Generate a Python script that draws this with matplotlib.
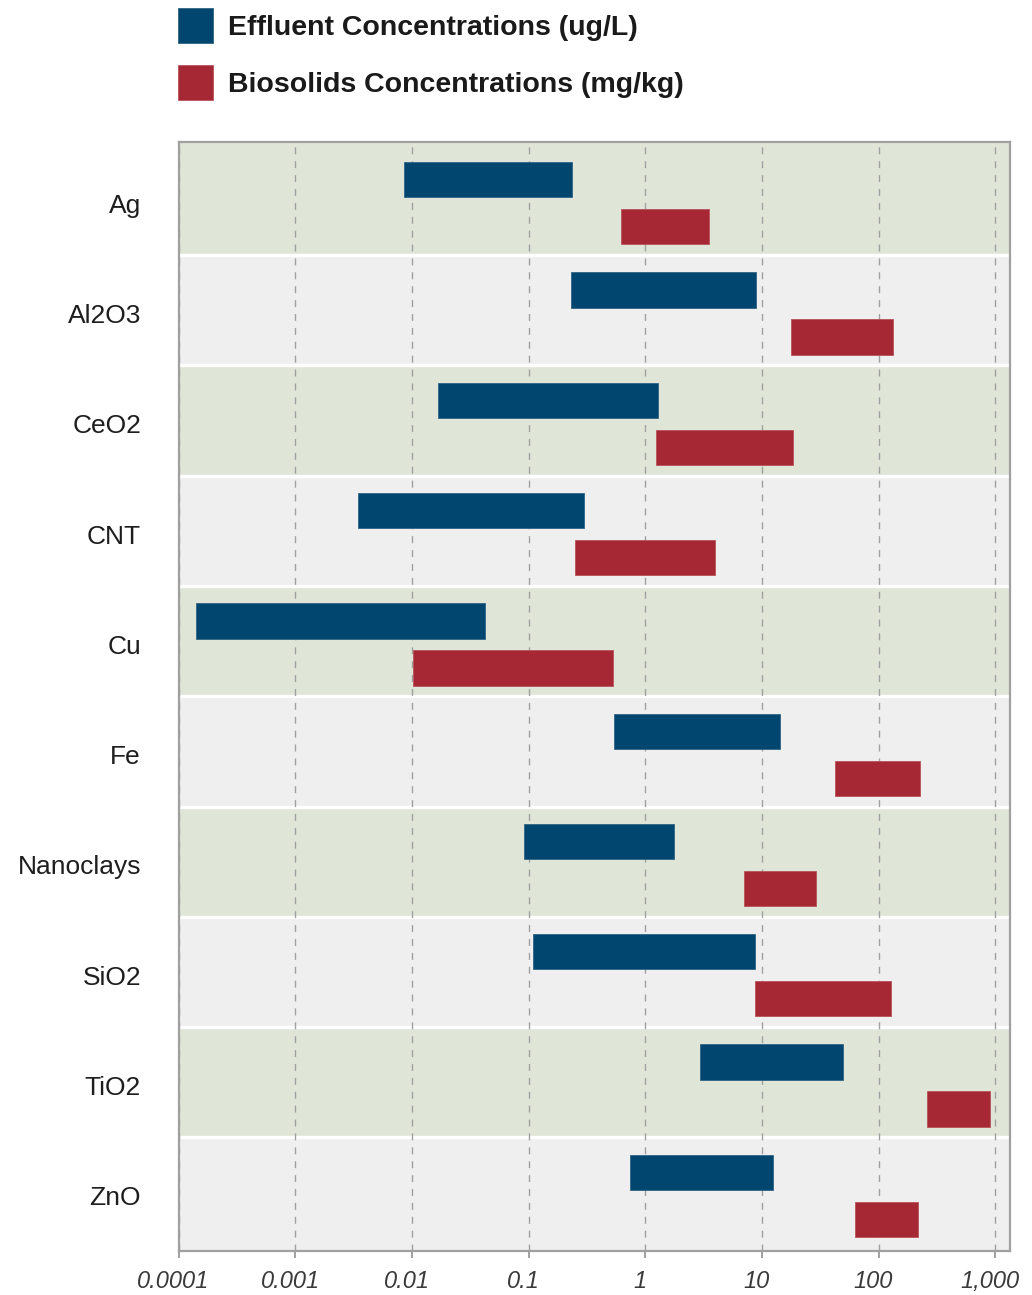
import matplotlib
matplotlib.use("Agg")
import matplotlib.pyplot as plt
from matplotlib.patches import Patch
from matplotlib.ticker import FixedLocator, FixedFormatter, NullLocator
from matplotlib.transforms import ScaledTranslation
import numpy as np

plt.rcParams['font.family'] = ['Liberation Sans', 'DejaVu Sans']

# Nanomaterial concentration ranges (low, high)
materials = ["Ag", "Al2O3", "CeO2", "CNT", "Cu", "Fe", "Nanoclays", "SiO2", "TiO2", "ZnO"]

effluent_low = [0.0085, 0.23, 0.0166, 0.00344, 0.00014, 0.536, 0.091, 0.110, 2.97, 0.745]
effluent_high = [0.235, 8.85, 1.29, 0.30, 0.0423, 14.4, 1.75, 8.8, 49.3, 12.5]

biosolids_low = [0.62, 17.9, 1.24, 0.248, 0.0102, 42.2, 7.08, 8.67, 258, 62.5]
biosolids_high = [3.55, 134, 18.4, 3.99, 0.53, 229, 28.9, 128, 899, 219]

tick_values = [0.0001, 0.001, 0.01, 0.1, 1, 10, 100, 1000]
tick_labels = ["0.0001", "0.001", "0.01", "0.1", "1", "10", "100", "1,000"]

series_names = ["Effluent Concentrations (ug/L)", "Biosolids Concentrations (mg/kg)"]

BLUE = "#00466f"
RED = "#a52834"
GREEN_BAND = "#e0e6d7"
GRAY_BAND = "#efefef"
SPINE = "#a0a0a0"

W, H = 1032, 1295
fig = plt.figure(figsize=(W / 100, H / 100), dpi=100)
ax_left, ax_right, ax_top, ax_bottom = 178.5, 1010, 142, 1251
ax = fig.add_axes([ax_left / W, (H - ax_bottom) / H,
                   (ax_right - ax_left) / W, (ax_bottom - ax_top) / H])

ax.set_xscale("log")
ax.set_xlim(1e-4, 1340)
n = len(materials)
y_top, y_bottom = -0.555, n - 0.5
ax.set_ylim(y_bottom, y_top)

# Alternating background bands with white separators
edges = [y_top] + [i + 0.47 for i in range(n - 1)] + [y_bottom]
for i in range(n):
    ax.axhspan(edges[i], edges[i + 1],
               color=GREEN_BAND if i % 2 == 0 else GRAY_BAND, lw=0, zorder=0)
for e in edges[1:-1]:
    ax.axhline(e, color="white", lw=2.4, zorder=1)

# Dashed decade grid
for v in tick_values:
    ax.axvline(v, color="#a0a0a0", lw=1.0, ls=(0, (5, 5)), zorder=2)

y = np.arange(n)
offset, bar_h = 0.213, 0.32
eff_lo = np.array(effluent_low)
eff_hi = np.array(effluent_high)
bio_lo = np.array(biosolids_low)
bio_hi = np.array(biosolids_high)
ax.barh(y - offset, eff_hi - eff_lo, left=eff_lo, height=bar_h, color=BLUE,
        edgecolor="#2f6487", lw=0.6, zorder=3)
ax.barh(y + offset, bio_hi - bio_lo, left=bio_lo, height=bar_h, color=RED,
        edgecolor="#b8525a", lw=0.6, zorder=3)

# Axes styling
ax.xaxis.set_major_locator(FixedLocator(tick_values))
ax.xaxis.set_major_formatter(FixedFormatter(tick_labels))
ax.xaxis.set_minor_locator(NullLocator())
ax.tick_params(axis="x", direction="out", length=5, width=1.4, color=SPINE,
               pad=9, labelsize=17, labelcolor="#3a3a3a")
shift = ScaledTranslation(-5 / 100, 0, fig.dpi_scale_trans)
for lbl in ax.get_xticklabels():
    lbl.set_fontstyle("italic")
    lbl.set_transform(lbl.get_transform() + shift)

ax.set_yticks(y)
ax.set_yticklabels(materials)
ax.tick_params(axis="y", length=0, pad=27, labelsize=19, labelcolor="#1e1e1e")

for side in ("left", "right", "top", "bottom"):
    ax.spines[side].set_color(SPINE)
    ax.spines[side].set_linewidth(1.6)
    ax.spines[side].set_zorder(4)

# Legend above the plot
handles = [Patch(facecolor=BLUE, edgecolor="#2f6487", lw=0.6),
           Patch(facecolor=RED, edgecolor="#b8525a", lw=0.6)]
leg = fig.legend(handles, series_names, loc="upper left",
                 bbox_to_anchor=(178 / W, 1 - 8 / H), frameon=False,
                 prop={"weight": "bold", "size": 20.5}, borderpad=0,
                 borderaxespad=0, handlelength=1.22, handleheight=1.51,
                 handletextpad=0.52, labelspacing=0.77)
for t in leg.get_texts():
    t.set_color("#1a1a1a")

fig.savefig("out.png", dpi=100, facecolor="white")
